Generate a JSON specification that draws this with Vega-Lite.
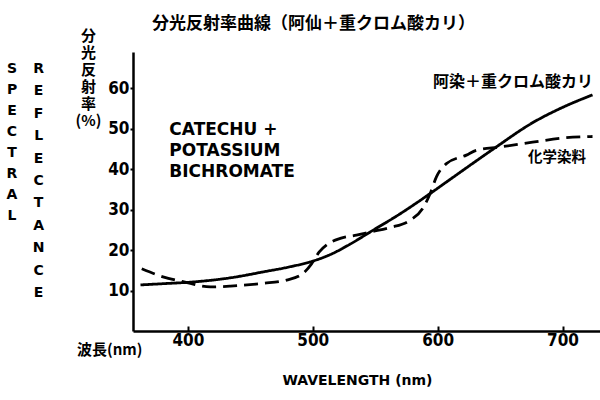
{
  "$schema": "https://vega.github.io/schema/vega-lite/v6.json",
  "width": 467,
  "height": 279,
  "autosize": "none",
  "padding": {"left": 133, "top": 52, "right": 0, "bottom": 69},
  "background": "white",
  "config": {
    "view": {"stroke": null},
    "font": "DejaVu Sans"
  },
  "title": {
    "text": "分光反射率曲線（阿仙＋重クロム酸カリ）",
    "font": "Noto Sans CJK JP",
    "fontSize": 17,
    "fontWeight": "bold",
    "color": "black",
    "anchor": "start",
    "frame": "group",
    "dx": 19,
    "dy": 20,
    "baseline": "bottom",
    "offset": -2
  },
  "datasets": {
    "curves": [
      {"nm": 362, "r": 11.4, "series": "阿染＋重クロム酸カリ"},
      {"nm": 380, "r": 11.7, "series": "阿染＋重クロム酸カリ"},
      {"nm": 407, "r": 12.2, "series": "阿染＋重クロム酸カリ"},
      {"nm": 435, "r": 13.2, "series": "阿染＋重クロム酸カリ"},
      {"nm": 460, "r": 14.6, "series": "阿染＋重クロム酸カリ"},
      {"nm": 482, "r": 15.9, "series": "阿染＋重クロム酸カリ"},
      {"nm": 498, "r": 17.1, "series": "阿染＋重クロム酸カリ"},
      {"nm": 514, "r": 18.9, "series": "阿染＋重クロム酸カリ"},
      {"nm": 530, "r": 21.5, "series": "阿染＋重クロム酸カリ"},
      {"nm": 546, "r": 24.5, "series": "阿染＋重クロム酸カリ"},
      {"nm": 570, "r": 29.0, "series": "阿染＋重クロム酸カリ"},
      {"nm": 594, "r": 34.0, "series": "阿染＋重クロム酸カリ"},
      {"nm": 610, "r": 37.5, "series": "阿染＋重クロム酸カリ"},
      {"nm": 626, "r": 41.0, "series": "阿染＋重クロム酸カリ"},
      {"nm": 645, "r": 45.1, "series": "阿染＋重クロム酸カリ"},
      {"nm": 676, "r": 51.5, "series": "阿染＋重クロム酸カリ"},
      {"nm": 700, "r": 55.3, "series": "阿染＋重クロム酸カリ"},
      {"nm": 724, "r": 58.4, "series": "阿染＋重クロム酸カリ"},
      {"nm": 363, "r": 15.4, "series": "化学染料"},
      {"nm": 380, "r": 13.4, "series": "化学染料"},
      {"nm": 396, "r": 12.2, "series": "化学染料"},
      {"nm": 418, "r": 10.9, "series": "化学染料"},
      {"nm": 434, "r": 11.1, "series": "化学染料"},
      {"nm": 460, "r": 11.8, "series": "化学染料"},
      {"nm": 479, "r": 12.6, "series": "化学染料"},
      {"nm": 492, "r": 14.2, "series": "化学染料"},
      {"nm": 499, "r": 16.6, "series": "化学染料"},
      {"nm": 505, "r": 19.5, "series": "化学染料"},
      {"nm": 512, "r": 21.5, "series": "化学染料"},
      {"nm": 522, "r": 22.9, "series": "化学染料"},
      {"nm": 535, "r": 23.7, "series": "化学染料"},
      {"nm": 546, "r": 24.5, "series": "化学染料"},
      {"nm": 562, "r": 25.6, "series": "化学染料"},
      {"nm": 578, "r": 27.4, "series": "化学染料"},
      {"nm": 588, "r": 30.3, "series": "化学染料"},
      {"nm": 594, "r": 34.0, "series": "化学染料"},
      {"nm": 599, "r": 38.1, "series": "化学染料"},
      {"nm": 607, "r": 41.4, "series": "化学染料"},
      {"nm": 623, "r": 43.5, "series": "化学染料"},
      {"nm": 631, "r": 44.7, "series": "化学染料"},
      {"nm": 650, "r": 45.5, "series": "化学染料"},
      {"nm": 676, "r": 46.7, "series": "化学染料"},
      {"nm": 703, "r": 47.8, "series": "化学染料"},
      {"nm": 724, "r": 48.1, "series": "化学染料"}
    ],
    "one": [{}]
  },
  "layer": [
    {
      "data": {"name": "curves"},
      "mark": {"type": "line", "interpolate": "monotone", "strokeWidth": 2.8, "color": "black"},
      "encoding": {
        "x": {
          "field": "nm", "type": "quantitative",
          "scale": {"domain": [356, 730], "nice": false, "zero": false},
          "axis": {
            "title": "WAVELENGTH (nm)",
            "titleFont": "DejaVu Sans", "titleFontSize": 14, "titleFontWeight": "bold", "titleColor": "black",
            "titleX": 224, "titleY": 49, "titleAlign": "center", "titleBaseline": "middle", "titleAnchor": null,
            "values": [400, 500, 600, 700],
            "grid": false,
            "domainColor": "black", "domainWidth": 2.5,
            "tickColor": "black", "tickWidth": 2, "tickSize": -5,
            "labelPadding": 6,
            "labelFont": "DejaVu Sans Condensed", "labelFontSize": 17, "labelFontWeight": "bold", "labelColor": "black"
          }
        },
        "y": {
          "field": "r", "type": "quantitative",
          "scale": {"domain": [0, 69], "nice": false, "zero": true},
          "axis": {
            "title": ["分", "光", "反", "射", "率", "(%)"],
            "titleFont": "Noto Sans CJK JP", "titleFontSize": 15, "titleFontWeight": "bold", "titleColor": "black",
            "titleAngle": 0, "titleAlign": "center", "titleBaseline": "top", "titleLineHeight": 17,
            "titleX": -45, "titleY": -24, "titleAnchor": null,
            "values": [10, 20, 30, 40, 50, 60],
            "grid": false,
            "domainColor": "black", "domainWidth": 2.5,
            "tickColor": "black", "tickWidth": 2, "tickSize": 3,
            "labelPadding": 1,
            "labelFont": "DejaVu Sans Condensed", "labelFontSize": 17, "labelFontWeight": "bold", "labelColor": "black"
          }
        },
        "detail": {"field": "series", "type": "nominal"},
        "strokeDash": {
          "field": "series", "type": "nominal",
          "scale": {"domain": ["阿染＋重クロム酸カリ", "化学染料"], "range": [[1, 0], [14, 7]]},
          "legend": null
        }
      }
    },
    {
      "data": {"name": "one"},
      "mark": {"type": "text", "text": ["S", "P", "E", "C", "T", "R", "A", "L"], "font": "DejaVu Sans", "fontSize": 14, "fontWeight": "bold", "color": "black", "align": "center", "baseline": "alphabetic", "lineHeight": 21},
      "encoding": {"x": {"datum": 259.1, "type": "quantitative"}, "y": {"datum": 63.8, "type": "quantitative"}}
    },
    {
      "data": {"name": "one"},
      "mark": {"type": "text", "text": ["R", "E", "F", "L", "E", "C", "T", "A", "N", "C", "E"], "font": "DejaVu Sans", "fontSize": 14, "fontWeight": "bold", "color": "black", "align": "center", "baseline": "alphabetic", "lineHeight": 22.4},
      "encoding": {"x": {"datum": 280.4, "type": "quantitative"}, "y": {"datum": 63.8, "type": "quantitative"}}
    },
    {
      "data": {"name": "one"},
      "mark": {"type": "text", "text": ["CATECHU +", "POTASSIUM", "BICHROMATE"], "font": "DejaVu Sans", "fontSize": 17, "fontWeight": "bold", "color": "black", "align": "left", "baseline": "alphabetic", "lineHeight": 21, "letterSpacing": 1},
      "encoding": {"x": {"datum": 385.1, "type": "quantitative"}, "y": {"datum": 48.5, "type": "quantitative"}}
    },
    {
      "data": {"name": "one"},
      "mark": {"type": "text", "text": "阿染＋重クロム酸カリ", "font": "Noto Sans CJK JP", "fontSize": 16, "fontWeight": "bold", "color": "black", "align": "left", "baseline": "middle"},
      "encoding": {"x": {"datum": 596.2, "type": "quantitative"}, "y": {"datum": 61.7, "type": "quantitative"}}
    },
    {
      "data": {"name": "one"},
      "mark": {"type": "text", "text": "化学染料", "font": "Noto Sans CJK JP", "fontSize": 14.5, "fontWeight": "bold", "color": "black", "align": "left", "baseline": "middle"},
      "encoding": {"x": {"datum": 672.3, "type": "quantitative"}, "y": {"datum": 42.7, "type": "quantitative"}}
    },
    {
      "data": {"name": "one"},
      "mark": {"type": "text", "text": "波長(nm)", "font": "Noto Sans CJK JP", "fontSize": 15, "fontWeight": "bold", "color": "black", "align": "left", "baseline": "middle"},
      "encoding": {"x": {"datum": 311.2, "type": "quantitative"}, "y": {"datum": -4.7, "type": "quantitative"}}
    }
  ]
}
